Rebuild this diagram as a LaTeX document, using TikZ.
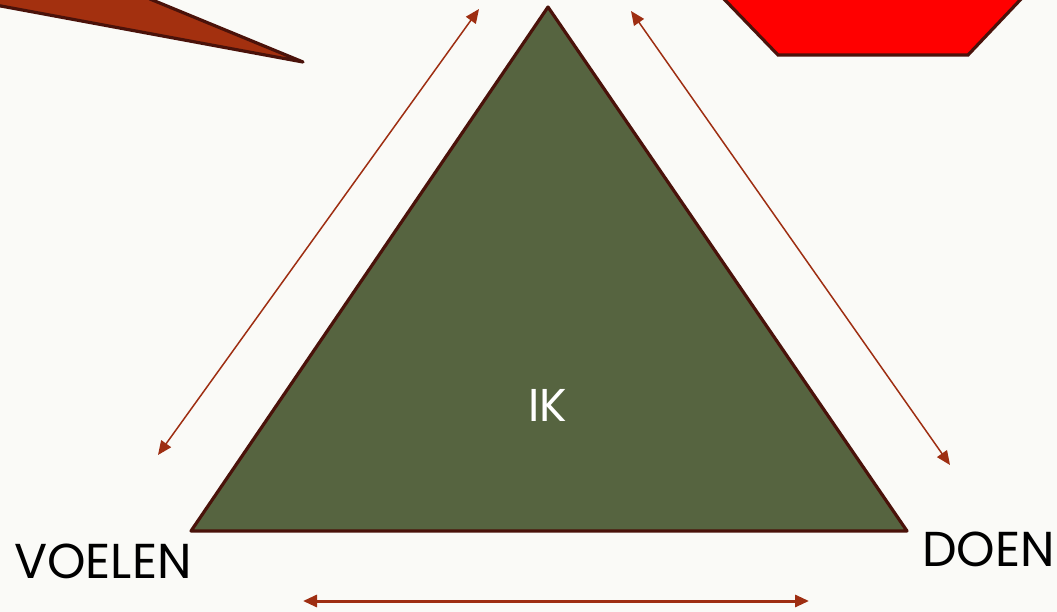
\documentclass[tikz,border=0pt]{standalone}
\usepackage{fontspec}
\setmainfont{Poppins}
\usetikzlibrary{arrows.meta}
\definecolor{bg}{HTML}{FAFAF7}
\definecolor{tri}{HTML}{566440}
\definecolor{edge}{HTML}{4A120A}
\definecolor{arr}{HTML}{9E2E12}
\definecolor{callout}{HTML}{A3300F}
\tikzset{
  link/.style={draw=arr, line width=1.5pt, {Triangle[length=14pt,width=12pt]}-{Triangle[length=14pt,width=12pt]}},
  lbl/.style={font=\fontsize{49}{49}\selectfont, inner sep=0pt, anchor=base west}
}
\begin{document}
\begin{tikzpicture}[x=1pt,y=-1pt]
\fill[bg] (0,0) rectangle (1057,612);
\useasboundingbox (0,0) rectangle (1057,612);
% callout
\begin{scope}
\clip (0,0) rectangle (1057,612);
\filldraw[fill=callout, draw=edge, line width=3.2pt, line join=round] (-10,-20) -- (-10,4) -- (303,62) -- (150,-1) -- (140,-20) -- cycle;
\filldraw[fill=red, draw=edge, line width=3.2pt] (700,-30) -- (723,-2) -- (778,55) -- (968,55) -- (1022,-2) -- (1040,-30) -- cycle;
\end{scope}
% triangle
\coordinate (A) at (548,7);
\coordinate (B) at (191,531);
\coordinate (C) at (907,531);
\filldraw[fill=tri, draw=edge, line width=3.2pt, line join=round] (A) -- (B) -- (C) -- cycle;
\node[text=white, font=\fontsize{46}{46}\selectfont, inner sep=0pt] (ik) at (548,405) {IK};
% arrows
\coordinate (l1) at (158,455);
\coordinate (l2) at (479,9);
\coordinate (r1) at (631,11);
\coordinate (r2) at (950,465);
\coordinate (b1) at (303,601);
\coordinate (b2) at (809,601);
\draw[link] (l1) -- (l2);
\draw[link] (r1) -- (r2);
\draw[link, line width=3pt] (b1) -- (b2);
% labels
\node[lbl] (voelen) at (14,578) {VOELEN};
\node[lbl] (doen) at (922,566) {DOEN};
\end{tikzpicture}
\end{document}
